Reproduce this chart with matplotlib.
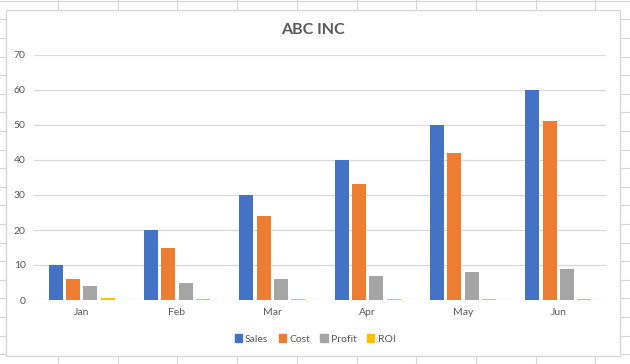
import numpy as np
import matplotlib
matplotlib.use("Agg")
import matplotlib.pyplot as plt
from matplotlib.patches import Rectangle, Patch

plt.rcParams['font.family'] = ['Lato', 'DejaVu Sans']

# Data
months = ['Jan', 'Feb', 'Mar', 'Apr', 'May', 'Jun']
sales = [10, 20, 30, 40, 50, 60]
cost = [6, 15, 24, 33, 42, 51]
profit = [4, 5, 6, 7, 8, 9]
roi = [0.67, 0.33, 0.25, 0.21, 0.19, 0.18]

series = [('Sales', sales, '#4472C4'),
          ('Cost', cost, '#ED7D31'),
          ('Profit', profit, '#A5A5A5'),
          ('ROI', roi, '#FFC000')]

W, H = 630, 364
fig = plt.figure(figsize=(W / 100, H / 100), dpi=100)
fig.patch.set_facecolor('white')

# spreadsheet cells behind the chart
bg = fig.add_axes([0, 0, 1, 1], zorder=0)
bg.set_xlim(0, W)
bg.set_ylim(H, 0)
bg.axis('off')
for x in np.arange(-1.7, W, 59.7):
    bg.axvline(x, color='#D6D6D6', lw=0.8, zorder=1)
for y in np.arange(0.7, H, 18.6):
    bg.axhline(y, color='#D6D6D6', lw=0.8, zorder=1)
bg.add_patch(Rectangle((6, 10), 614, 346, facecolor='white',
                       edgecolor='#D9D9D9', lw=1.0, zorder=5))

# the chart itself
ax = fig.add_axes([34 / W, (H - 300) / H, 572 / W, 245 / H], zorder=1)
ax.patch.set_alpha(0)
x = np.arange(len(months))
width = 0.147
step = 0.182
for i, (name, vals, col) in enumerate(series):
    ax.bar(x + (i - 1.5) * step, vals, width, color=col, label=name,
           zorder=3, linewidth=0)

ax.set_xlim(-0.5, 5.5)
ax.set_ylim(0, 70)
ax.set_yticks(range(0, 71, 10))
ax.set_xticks(x)
ax.set_xticklabels(months)
ax.grid(axis='y', color='#D9D9D9', lw=0.9, zorder=0)
for s in ax.spines.values():
    s.set_visible(False)
ax.tick_params(length=0, colors='#595959', labelsize=7.5)
ax.tick_params(axis='x', pad=6)
ax.tick_params(axis='y', pad=6)

fig.text(313 / W, 1 - 30 / H, 'ABC INC', ha='center', va='center',
         fontsize=11.5, fontweight='bold', color='#595959')

handles = [Patch(color=c, label=n) for n, _, c in series]
leg = fig.legend(handles=handles, loc='center', ncol=4,
                 bbox_to_anchor=(315 / W, 1 - 339 / H), frameon=False,
                 fontsize=7.5, handlelength=0.7, handleheight=0.7,
                 handletextpad=0.3, columnspacing=1.0)
for t in leg.get_texts():
    t.set_color('#595959')

fig.savefig('out.png', dpi=100)
